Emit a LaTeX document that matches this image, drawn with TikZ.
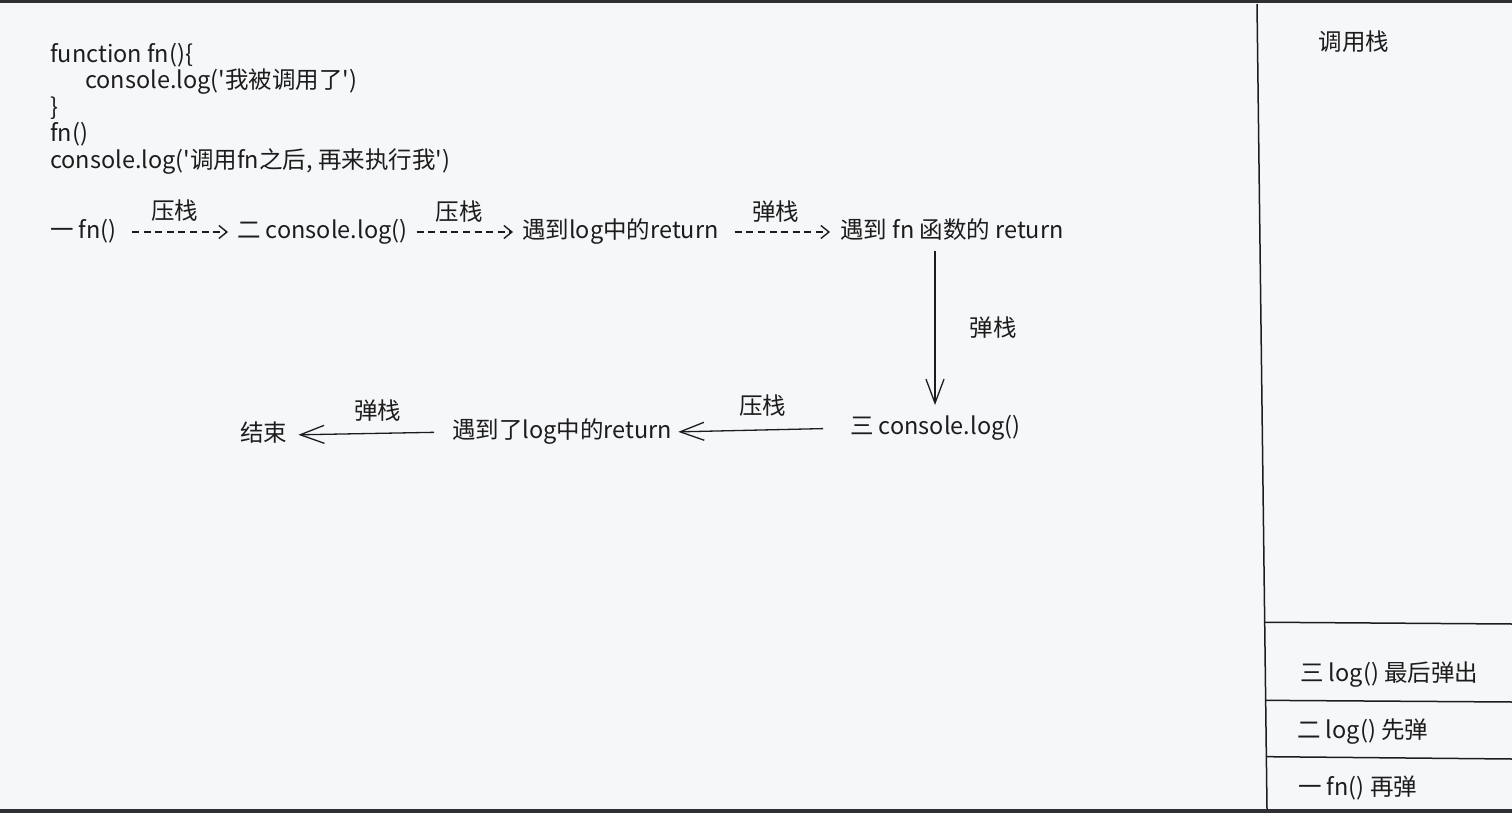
\documentclass[tikz,border=0pt]{standalone}
\usepackage{fontspec}
\newfontfamily\cnfont{Noto Sans CJK SC}
\usetikzlibrary{arrows.meta,calc}

\definecolor{bg}{HTML}{F6F7F9}
\definecolor{ink}{HTML}{1C1C1C}
\definecolor{rim}{HTML}{2E3033}

\tikzset{
  step text/.style={inner sep=0pt, anchor=west, text height=17pt, text depth=5pt, text=ink},
  tag/.style={inner sep=0pt, text=ink},
  push/.style={draw=ink, line width=1.4pt, dash pattern=on 7pt off 4.6pt, -{Straight Barb[length=8pt,width=13pt,line width=1.4pt]}},
  pull/.style={draw=ink, line width=1.3pt, -{Straight Barb[length=24pt,width=18pt,line width=1.3pt]}},
  stack line/.style={draw=ink, line width=1.5pt}
}

\begin{document}
\begin{tikzpicture}[x=1pt, y=-1pt, font=\cnfont\fontsize{23.5}{26.5}\selectfont]
  \useasboundingbox (0,0) rectangle (1512,813);
  \fill[bg] (0,0) rectangle (1512,813);
  \fill[rim] (0,0) rectangle (1512,3);
  \fill[rim] (0,809) rectangle (1512,813);

  % code
  \node (code) [tag, anchor=north west, align=left] at (50,43)
  {function fn()\{\\
   \hspace*{35pt}console.log('我被调用了')\\
   \}\\
   fn()\\
   console.log('调用fn之后, 再来执行我')};

  % first row
  \node (one)   [step text] at (50,232)  {一 fn()};
  \node (two)   [step text] at (237,232) {二 console.log()};
  \node (ret)   [step text] at (522,232) {遇到log中的return};
  \node (fnret) [step text] at (840,232) {遇到 fn 函数的 return};

  % second row
  \node (three) [step text] at (850,428) {三 console.log()};
  \node (ret2)  [step text] at (452,432) {遇到了log中的return};
  \node (done)  [step text] at (240,435) {结束};

  \path
  (one.east)  edge[push, shorten <=15pt, shorten >=9pt] node [tag, above=10pt, pos=0.48] {压栈} (two.west)
  (two.east)  edge[push, shorten <=9pt, shorten >=9pt] node [tag, above=9pt, pos=0.45] {压栈} (ret.west)
  (ret.east)  edge[push, shorten <=16pt, shorten >=10pt] node [tag, above=9pt, pos=0.47] {弹栈} (fnret.west)
  (fnret.south -| 935,0) edge[pull, shorten <=8pt] node [tag, right=34pt, pos=0.52] {弹栈} (935,405)
  (three.west) edge[pull, shorten <=27pt, shorten >=6pt] node [tag, above=13pt, pos=0.49] {压栈} (ret2.east)
  (ret2.west) edge[pull, shorten <=18pt, shorten >=11pt] node [tag, above=11pt, pos=0.45] {弹栈} (done.east)
;

  % call stack
  \coordinate (stacktop) at (1257,4);
  \coordinate (stackbot) at (1267,809);
  \draw[stack line] (stacktop) -- (stackbot);
  \draw[stack line] ($(stacktop)!0.768!(stackbot)$) -- (1512,624);
  \draw[stack line] ($(stacktop)!0.865!(stackbot)$) -- (1512,702);
  \draw[stack line] ($(stacktop)!0.935!(stackbot)$) -- (1512,759);

  \node (title) [tag] at (1354,42) {调用栈};
  \node (s3) [step text] at (1300,675) {三 log() 最后弹出};
  \node (s2) [step text] at (1297,732) {二 log() 先弹};
  \node (s1) [step text] at (1298,789) {一 fn() 再弹};
\end{tikzpicture}
\end{document}
